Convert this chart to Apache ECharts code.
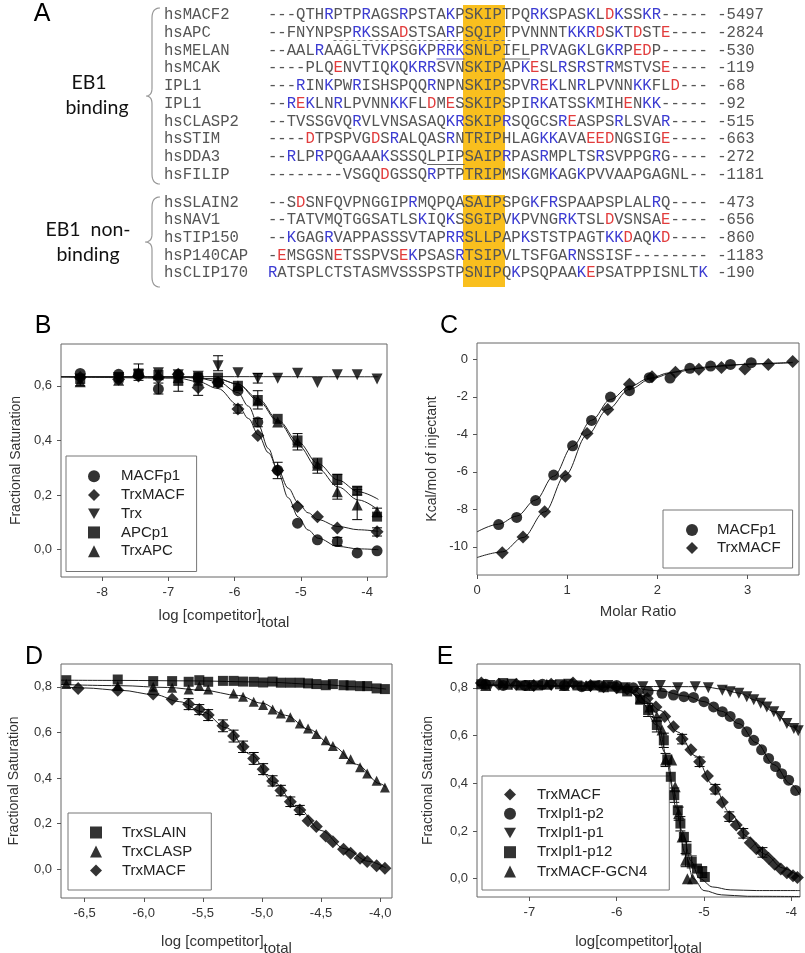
<!DOCTYPE html>
<html>
<head>
<meta charset="utf-8">
<script src="https://cdn.jsdelivr.net/npm/echarts@6/dist/echarts.min.js"></script>
<style>
  html, body { margin: 0; padding: 0; background: #fff; }
  #main { width: 805px; height: 953px; }
</style>
</head>
<body>
<div id="main"></div>
<script>
// ---------- panel A : alignment ----------
const alignNames = ['hsMACF2', 'hsAPC', 'hsMELAN', 'hsMCAK', 'IPL1', 'IPL1', 'hsCLASP2', 'hsSTIM', 'hsDDA3', 'hsFILIP',
  'hsSLAIN2', 'hsNAV1', 'hsTIP150', 'hsP140CAP', 'hsCLIP170'];
const alignSeqs = [
  '---QTHRPTPRAGSRPSTAKPSKIPTPQRKSPASKLDKSSKR-----',
  '--FNYNPSPRKSSADSTSARPSQIPTPVNNNTKKRDSKTDSTE----',
  '--AALRAAGLTVKPSGKPRRKSNLPIFLPRVAGKLGKRPEDP-----',
  '----PLQENVTIQKQKRRSVNSKIPAPKESLRSRSTRMSTVSE----',
  '---RINKPWRISHSPQQRNPNSKIPSPVREKLNRLPVNNKKFLD---',
  '--REKLNRLPVNNKKFLDMESSKIPSPIRKATSSKMIHENKK-----',
  '--TVSSGVQRVLVNSASAQKRSKIPRSQGCSREASPSRLSVAR----',
  '----DTPSPVGDSRALQASRNTRIPHLAGKKAVAEEDNGSIGE----',
  '--RLPRPQGAAAKSSSQLPIPSAIPRPASRMPLTSRSVPPGRG----',
  '--------VSGQDGSSQRPTPTRIPMSKGMKAGKPVVAAPGAGNL--',
  '--SDSNFQVPNGGIPRMQPQASAIPSPGKFRSPAAPSPLALRQ----',
  '--TATVMQTGGSATLSKIQKSSGIPVKPVNGRKTSLDVSNSAE----',
  '--KGAGRVAPPASSSVTAPRRSLLPAPKSTSTPAGTKKDAQKD----',
  '-EMSGSNETSSPVSEKPSASRTSIPVLTSFGARNSSISF--------',
  'RATSPLCTSTASMVSSSPSTPSNIPQKPSQPAAKEPSATPPISNLTK'
];
const alignEnds = ['-5497', '-2824', '-530', '-119', '-68', '-92', '-515', '-663', '-272', '-1181',
  '-473', '-656', '-860', '-1183', '-190'];
const motifCols = [21, 24];

// ---------- panel B ----------
const bX = [-8.33, -7.75, -7.45, -7.15, -6.85, -6.55, -6.25, -5.95, -5.65, -5.35, -5.05, -4.75, -4.45, -4.15, -3.85];
const bMACFp1 = [0.645, 0.642, 0.64, 0.588, 0.64, 0.63, 0.612, 0.582, 0.467, 0.291, 0.097, 0.036, 0.03, -0.012, -0.004];
const bTrxMACF = [0.63, 0.624, 0.636, 0.63, 0.642, 0.594, 0.612, 0.515, 0.418, 0.29, 0.158, 0.121, 0.079, null, 0.066];
const bTrx = [0.625, 0.63, 0.64, 0.648, 0.64, 0.635, 0.673, 0.648, 0.628, 0.628, 0.646, 0.612, 0.64, 0.64, 0.625];
const bAPCp1 = [0.625, 0.63, 0.645, 0.64, 0.618, 0.63, 0.63, 0.60, 0.548, 0.479, 0.40, 0.315, 0.26, 0.216, 0.121];
const bTrxAPC = [0.615, 0.62, 0.65, 0.64, 0.63, 0.62, 0.615, 0.60, 0.545, 0.467, 0.394, 0.309, 0.212, 0.164, 0.14];
const bFitMACFp1 = [[-8.62, 0.633], [-6.85, 0.632], [-6.55, 0.628], [-6.25, 0.615], [-5.95, 0.575], [-5.79, 0.525], [-5.64, 0.455],
  [-5.49, 0.37], [-5.34, 0.28], [-5.19, 0.19], [-5.04, 0.12], [-4.89, 0.072], [-4.74, 0.042], [-4.44, 0.012], [-4.13, 0.003], [-3.83, 0.0]];
const bFitTrxMACF = [[-8.62, 0.633], [-6.85, 0.628], [-6.55, 0.615], [-6.25, 0.59], [-5.95, 0.53], [-5.79, 0.48], [-5.64, 0.42],
  [-5.49, 0.355], [-5.34, 0.29], [-5.19, 0.225], [-5.04, 0.172], [-4.89, 0.135], [-4.74, 0.11], [-4.44, 0.085], [-4.13, 0.073], [-3.83, 0.067]];
const bFitTrx = [[-8.62, 0.634], [-3.83, 0.633]];
const bFitAPCp1 = [[-8.62, 0.633], [-6.85, 0.632], [-6.25, 0.625], [-5.95, 0.606], [-5.64, 0.552], [-5.34, 0.473], [-5.04, 0.394],
  [-4.74, 0.315], [-4.44, 0.255], [-4.13, 0.212], [-3.83, 0.184]];
const bFitTrxAPC = [[-8.62, 0.633], [-6.85, 0.632], [-6.25, 0.625], [-5.95, 0.606], [-5.64, 0.545], [-5.34, 0.467], [-5.04, 0.382],
  [-4.74, 0.297], [-4.44, 0.23], [-4.13, 0.182], [-3.83, 0.145]];
// error bars: [x, low, high]
const bErrors = [[-7.15, 0.57, 0.61], [-5.65, 0.45, 0.48], [-5.35, 0.26, 0.32], [-4.45, 0.015, 0.045],
  [-6.55, 0.565, 0.625], [-5.95, 0.50, 0.53], [-3.85, 0.05, 0.08],
  [-6.25, 0.655, 0.71], [-5.65, 0.61, 0.645],
  [-7.45, 0.62, 0.68], [-6.85, 0.58, 0.63], [-5.65, 0.515, 0.582], [-4.45, 0.24, 0.275], [-4.15, 0.20, 0.23],
  [-8.33, 0.60, 0.625], [-5.05, 0.365, 0.425], [-4.75, 0.28, 0.335], [-4.45, 0.185, 0.24], [-4.15, 0.11, 0.22], [-3.85, 0.12, 0.152]];

// ---------- panel C ----------
const cMACFx = [0.24, 0.44, 0.65, 0.85, 1.06, 1.27, 1.48, 1.69, 1.91, 2.14, 2.36, 2.59, 2.81, 3.04];
const cMACFy = [-8.81, -8.43, -7.53, -6.17, -4.61, -3.26, -2.01, -1.67, -0.98, -1.0, -0.48, -0.36, -0.27, -0.18];
const cTrxx = [0.28, 0.51, 0.75, 0.98, 1.22, 1.45, 1.69, 1.94, 2.2, 2.46, 2.71, 2.97, 3.23, 3.5];
const cTrxy = [-10.32, -9.47, -8.13, -6.23, -3.95, -2.67, -1.33, -0.93, -0.69, -0.53, -0.43, -0.52, -0.27, -0.12];
const cFitMACF = [[0, -9.2], [0.24, -8.79], [0.44, -8.36], [0.65, -7.5], [0.85, -6.23], [1.06, -4.63], [1.27, -3.25], [1.48, -2.14],
  [1.69, -1.46], [1.91, -1.01], [2.14, -0.71], [2.36, -0.52], [2.59, -0.39], [2.81, -0.3], [3.04, -0.25], [3.5, -0.18]];
const cFitTrx = [[0, -10.57], [0.28, -10.27], [0.51, -9.5], [0.75, -8.13], [0.98, -6.17], [1.22, -4.04], [1.45, -2.67], [1.69, -1.6],
  [1.94, -1.01], [2.2, -0.68], [2.46, -0.48], [2.71, -0.36], [2.97, -0.27], [3.23, -0.21], [3.5, -0.16]];

// ---------- panel D ----------
const dSLAINx = [-6.655, -6.22, -5.92, -5.76, -5.62, -5.53, -5.455, -5.33, -5.24, -5.16, -5.07, -4.99, -4.91, -4.84, -4.76, -4.68,
  -4.61, -4.54, -4.46, -4.40, -4.31, -4.25, -4.17, -4.11, -4.03, -3.96];
const dSLAINy = [0.829, 0.832, 0.825, 0.825, 0.822, 0.829, 0.822, 0.826, 0.826, 0.823, 0.822, 0.819, 0.823, 0.818, 0.818, 0.818,
  0.815, 0.812, 0.807, 0.812, 0.807, 0.806, 0.803, 0.803, 0.793, 0.79];
const dCLASPx = [-6.655, -6.22, -5.92, -5.76, -5.62, -5.53, -5.455, -5.24, -5.16, -5.07, -4.99, -4.91, -4.84, -4.76, -4.68,
  -4.61, -4.54, -4.46, -4.40, -4.31, -4.25, -4.17, -4.11, -4.03, -3.96];
const dCLASPy = [0.812, 0.803, 0.80, 0.796, 0.788, 0.803, 0.788, 0.771, 0.756, 0.734, 0.72, 0.70, 0.683, 0.666, 0.639,
  0.617, 0.593, 0.566, 0.54, 0.505, 0.482, 0.447, 0.42, 0.388, 0.359];
const dMACFx = [-6.555, -6.22, -5.92, -5.76, -5.62, -5.53, -5.455, -5.33, -5.24, -5.16, -5.07, -4.99, -4.91, -4.84, -4.76, -4.68,
  -4.61, -4.54, -4.46, -4.40, -4.31, -4.25, -4.17, -4.11, -4.03, -3.96];
const dMACFy = [0.793, 0.785, 0.768, 0.745, 0.724, 0.70, 0.676, 0.629, 0.584, 0.537, 0.486, 0.439, 0.387, 0.345, 0.296, 0.26,
  0.213, 0.187, 0.146, 0.121, 0.088, 0.07, 0.048, 0.034, 0.015, 0.004];
const dFitSLAIN = [[-6.7, 0.829], [-6.2, 0.828], [-5.6, 0.826], [-5.0, 0.821], [-4.5, 0.81], [-4.2, 0.80], [-3.95, 0.79]];
const dFitCLASP = [[-6.7, 0.81], [-6.2, 0.805], [-5.8, 0.797], [-5.5, 0.785], [-5.2, 0.762], [-5.0, 0.728], [-4.8, 0.675],
  [-4.6, 0.613], [-4.4, 0.54], [-4.2, 0.46], [-4.0, 0.375], [-3.95, 0.359]];
const dFitMACF = [[-6.7, 0.80], [-6.5, 0.795], [-6.2, 0.785], [-5.9, 0.765], [-5.7, 0.735], [-5.5, 0.69], [-5.3, 0.62], [-5.1, 0.505],
  [-4.9, 0.382], [-4.7, 0.272], [-4.5, 0.17], [-4.3, 0.09], [-4.1, 0.035], [-3.95, 0.005]];
const dErrors = [[-5.62, 0.70, 0.748], [-5.53, 0.678, 0.722], [-5.455, 0.652, 0.70], [-5.33, 0.603, 0.655], [-5.24, 0.558, 0.61],
  [-5.16, 0.512, 0.562], [-5.07, 0.46, 0.512], [-4.99, 0.415, 0.463], [-4.91, 0.365, 0.41], [-4.84, 0.322, 0.368],
  [-4.76, 0.275, 0.317], [-4.68, 0.24, 0.28]];

// ---------- panel E ----------
const eMACFx = [-7.55, -7.35, -7.15, -6.95, -6.75, -6.5, -6.3, -6.15, -6.0, -5.88, -5.76, -5.65, -5.55, -5.45, -5.35, -5.25, -5.15,
  -5.05, -4.96, -4.87, -4.79, -4.71, -4.63, -4.55, -4.47, -4.4, -4.33, -4.26, -4.19, -4.12, -4.05, -3.98, -3.93];
const eMACFy = [0.82, 0.815, 0.815, 0.81, 0.815, 0.82, 0.81, 0.805, 0.80, 0.795, 0.78, 0.755, 0.72, 0.68, 0.637, 0.585, 0.54,
  0.49, 0.43, 0.375, 0.32, 0.26, 0.225, 0.19, 0.15, 0.125, 0.11, 0.085, 0.06, 0.04, 0.025, 0.012, 0.005];
const eP2x = [-7.5, -7.3, -7.05, -6.85, -6.6, -6.4, -6.2, -6.0, -5.81, -5.64, -5.48, -5.35, -5.23, -5.12, -5.0, -4.89, -4.79, -4.7,
  -4.6, -4.51, -4.43, -4.34, -4.26, -4.18, -4.11, -4.03, -3.95];
const eP2y = [0.815, 0.81, 0.81, 0.815, 0.81, 0.805, 0.81, 0.81, 0.80, 0.785, 0.777, 0.77, 0.763, 0.76, 0.742, 0.72, 0.70, 0.68,
  0.65, 0.616, 0.58, 0.54, 0.504, 0.47, 0.44, 0.413, 0.37];
const eP1x = [-7.45, -7.2, -7.0, -6.75, -6.55, -6.3, -6.1, -5.9, -5.7, -5.5, -5.3, -5.1, -4.95, -4.79, -4.7, -4.6, -4.51, -4.43,
  -4.35, -4.28, -4.2, -4.13, -4.05, -3.97, -3.92];
const eP1y = [0.81, 0.815, 0.81, 0.81, 0.815, 0.805, 0.81, 0.80, 0.805, 0.81, 0.80, 0.805, 0.80, 0.79, 0.784, 0.777, 0.763, 0.75,
  0.735, 0.72, 0.70, 0.68, 0.65, 0.63, 0.62];
const eP12x = [-7.55, -7.3, -7.1, -6.9, -6.65, -6.45, -6.25, -6.05, -5.88, -5.73, -5.64, -5.54, -5.46, -5.42, -5.38, -5.34, -5.3,
  -5.27, -5.23, -5.2, -5.14, -5.08, -5.02, -4.99];
const eP12y = [0.815, 0.82, 0.81, 0.81, 0.815, 0.81, 0.81, 0.805, 0.785, 0.75, 0.707, 0.644, 0.58, 0.50, 0.427, 0.35, 0.287,
  0.231, 0.175, 0.126, 0.07, 0.042, 0.028, 0.007];
const eGCNx = [-7.5, -7.25, -7.0, -6.8, -6.6, -6.35, -6.15, -5.95, -5.73, -5.62, -5.54, -5.48, -5.44, -5.37, -5.33, -5.29, -5.25,
  -5.21, -5.19, -5.13];
const eGCNy = [0.81, 0.815, 0.81, 0.815, 0.81, 0.81, 0.805, 0.80, 0.756, 0.72, 0.68, 0.623, 0.497, 0.497, 0.385, 0.273, 0.175,
  0.077, 0.0, 0.0];
const eFitMACF = [[-7.6, 0.812], [-6.5, 0.81], [-6.0, 0.80], [-5.7, 0.765], [-5.5, 0.705], [-5.3, 0.615], [-5.1, 0.515], [-4.9, 0.395],
  [-4.7, 0.275], [-4.5, 0.175], [-4.3, 0.102], [-4.1, 0.045], [-3.9, 0.005]];
const eFitP2 = [[-7.6, 0.81], [-6.0, 0.807], [-5.5, 0.787], [-5.2, 0.765], [-5.0, 0.742], [-4.8, 0.702], [-4.6, 0.65], [-4.4, 0.57],
  [-4.2, 0.478], [-4.0, 0.395], [-3.9, 0.35]];
const eFitP1 = [[-7.6, 0.81], [-5.0, 0.805], [-4.8, 0.795], [-4.6, 0.778], [-4.4, 0.748], [-4.2, 0.70], [-4.0, 0.638], [-3.9, 0.612]];
const eFitP12 = [[-7.6, 0.812], [-6.0, 0.806], [-5.85, 0.785], [-5.7, 0.735], [-5.55, 0.645], [-5.45, 0.53], [-5.35, 0.37],
  [-5.25, 0.2], [-5.15, 0.075], [-5.05, 0.0], [-4.9, -0.035], [-4.7, -0.047], [-4.4, -0.05], [-3.9, -0.05]];
const eFitGCN = [[-7.6, 0.812], [-6.0, 0.806], [-5.8, 0.79], [-5.65, 0.74], [-5.52, 0.64], [-5.42, 0.5], [-5.32, 0.3], [-5.22, 0.11],
  [-5.12, 0.0], [-5.0, -0.05], [-4.8, -0.068], [-4.5, -0.074], [-3.9, -0.075]];
const eErrors = [[-5.64, 0.68, 0.735], [-5.54, 0.615, 0.675], [-5.46, 0.55, 0.61], [-5.34, 0.32, 0.38], [-5.27, 0.2, 0.26],
  [-5.2, 0.1, 0.155], [-5.14, 0.045, 0.095], [-5.02, 0.005, 0.05], [-5.44, 0.47, 0.525], [-5.29, 0.245, 0.30], [-5.21, 0.05, 0.105],
  [-5.25, 0.565, 0.605], [-5.05, 0.47, 0.51], [-4.87, 0.355, 0.395], [-4.71, 0.24, 0.28], [-4.55, 0.17, 0.21], [-4.33, 0.09, 0.13]];

// ---------- helpers ----------
const FONT = 'Liberation Sans';
const MONO = '15.6px "Liberation Mono"';
const CW = 9.36; // mono char width
const triDown = 'path://M0,0L10,0L5,8.7Z';

const pairs = (xs, ys) => xs.map((x, i) => [x, ys[i]]).filter(p => p[1] !== null);
const comma = v => v.toFixed(1).replace('.', ',');

function valAxis(gi, min, max, ticks, fmt, name, gap, vertical) {
  return {
    type: 'value', gridIndex: gi, min: min, max: max,
    axisLine: { show: false, onZero: false }, splitLine: { show: false },
    axisTick: { show: true, length: 4, customValues: ticks, lineStyle: { color: '#555' } },
    axisLabel: { customValues: ticks, formatter: fmt, color: '#333', fontSize: 13, fontFamily: FONT, margin: 9 },
    name: name, nameLocation: 'middle', nameGap: gap,
    nameRotate: vertical ? 90 : 0,
    nameTextStyle: {
      color: '#333', fontSize: vertical ? 14 : 15, fontFamily: FONT,
      rich: {
        a: { fontSize: 15, color: '#333', fontFamily: FONT, verticalAlign: 'top' },
        s: { fontSize: 15, color: '#333', fontFamily: FONT, verticalAlign: 'top', padding: [7, 0, 0, 0] }
      }
    }
  };
}

function dots(name, data, gi, symbol, size) {
  return { name: name, type: 'scatter', xAxisIndex: gi, yAxisIndex: gi, data: data, symbol: symbol,
    symbolSize: size || 11, itemStyle: { color: '#000' }, z: 4, silent: true };
}

function fit(data, gi) {
  return { type: 'line', xAxisIndex: gi, yAxisIndex: gi, data: data, symbol: 'none', smooth: 0.35, smoothMonotone: 'x',
    lineStyle: { color: '#222', width: 1 }, z: 3, silent: true };
}

function errBars(data, gi) {
  return {
    type: 'custom', xAxisIndex: gi, yAxisIndex: gi, data: data, encode: { x: 0, y: [1, 2] }, z: 2, silent: true,
    renderItem: function (params, api) {
      const lo = api.coord([api.value(0), api.value(1)]);
      const hi = api.coord([api.value(0), api.value(2)]);
      const w = 5;
      const st = { stroke: '#000', lineWidth: 1 };
      return { type: 'group', children: [
        { type: 'line', shape: { x1: lo[0], y1: lo[1], x2: hi[0], y2: hi[1] }, style: st },
        { type: 'line', shape: { x1: lo[0] - w, y1: lo[1], x2: lo[0] + w, y2: lo[1] }, style: st },
        { type: 'line', shape: { x1: hi[0] - w, y1: hi[1], x2: hi[0] + w, y2: hi[1] }, style: st }
      ] };
    }
  };
}

function legendBox(left, top, names, lh, pad, textPad) {
  return {
    orient: 'vertical', left: left, top: top, data: names, selectedMode: false,
    itemWidth: 12, itemHeight: 12, itemGap: 0, padding: pad,
    borderColor: '#777', borderWidth: 1, borderRadius: 0,
    textStyle: { fontSize: 15, color: '#222', fontFamily: FONT, lineHeight: lh, padding: [0, 0, 0, textPad] }
  };
}

// ---------- panel A graphics ----------
function richSeq(seq, end) {
  let out = '';
  for (let i = 0; i < seq.length; i++) {
    const c = seq[i];
    let st = 'n';
    if (i < motifCols[0] || i > motifCols[1]) {
      if (c === 'K' || c === 'R') st = 'b';
      else if (c === 'D' || c === 'E') st = 'r';
    }
    out += '{' + st + '|' + c + '}';
  }
  return out + '{n| ' + end + '}';
}

const rowY = alignNames.map((n, i) => i < 10 ? 15 + i * 17.75 : 202.7 + (i - 10) * 17.65);
const seqX = 268, nameX = 164;
const colX = c => seqX + c * CW;

// curly brace drawn as a polyline from sampled quadratic curves
function bracePoints(x, y1, y2, tipX) {
  const ym = (y1 + y2) / 2, xm = x - 5;
  const segs = [
    [[x + 3, y1], [xm, y1], [xm, y1 + 10]],
    [[xm, ym - 8], [xm, ym], [tipX, ym]],
    [[tipX, ym], [xm, ym], [xm, ym + 8]],
    [[xm, y2 - 10], [xm, y2], [x + 3, y2]]
  ];
  const pts = [];
  segs.forEach(s => {
    for (let k = 0; k <= 8; k++) {
      const t = k / 8, u = 1 - t;
      pts.push([u * u * s[0][0] + 2 * u * t * s[1][0] + t * t * s[2][0],
        u * u * s[0][1] + 2 * u * t * s[1][1] + t * t * s[2][1]]);
    }
  });
  return pts;
}

const graphics = [
  { type: 'rect', shape: { x: 463, y: 5, width: 42, height: 175 }, style: { fill: '#f9bf1e' }, z: 0 },
  { type: 'rect', shape: { x: 463, y: 195, width: 42, height: 92 }, style: { fill: '#f9bf1e' }, z: 0 },
  { type: 'polyline', shape: { points: bracePoints(157, 8, 184, 146) }, style: { stroke: '#999', fill: null, lineWidth: 1.2 }, z: 1 },
  { type: 'polyline', shape: { points: bracePoints(157, 197, 287, 145) }, style: { stroke: '#999', fill: null, lineWidth: 1.2 }, z: 1 },
  { type: 'line', shape: { x1: colX(7), y1: 40.5, x2: colX(26), y2: 40.5 }, style: { stroke: '#777', lineWidth: 1, lineDash: [3, 3] }, z: 1 },
  { type: 'line', shape: { x1: colX(18), y1: 59, x2: colX(21), y2: 59 }, style: { stroke: '#5555cc', lineWidth: 1 }, z: 1 },
  { type: 'line', shape: { x1: colX(25), y1: 59, x2: colX(28), y2: 59 }, style: { stroke: '#666', lineWidth: 1 }, z: 1 },
  { type: 'line', shape: { x1: colX(17), y1: 164.5, x2: colX(21), y2: 164.5 }, style: { stroke: '#666', lineWidth: 1 }, z: 1 }
];
const labelFont = '19.5px Lato';
[['EB1', 89, 83], ['binding', 97, 108], ['EB1  non-', 88, 230], ['binding', 88, 255]].forEach(t => {
  graphics.push({ type: 'text', x: t[1], y: t[2], z: 2,
    style: { text: t[0], font: labelFont, fill: '#111', align: 'center', verticalAlign: 'middle' } });
});
[['A', 42, 14], ['B', 43, 326], ['C', 449, 326], ['D', 34, 657], ['E', 445, 657]].forEach(t => {
  graphics.push({ type: 'text', x: t[1], y: t[2], z: 2,
    style: { text: t[0], font: '25px "Liberation Sans"', fill: '#000', align: 'center', verticalAlign: 'middle' } });
});
alignNames.forEach((n, i) => {
  graphics.push({ type: 'text', x: nameX, y: rowY[i], z: 2,
    style: { text: n, font: MONO, fill: '#555', verticalAlign: 'middle' } });
  graphics.push({ type: 'text', x: seqX, y: rowY[i], z: 2,
    style: { text: richSeq(alignSeqs[i], alignEnds[i]), font: MONO, fill: '#555', verticalAlign: 'middle',
      rich: {
        n: { fill: '#555', font: MONO },
        b: { fill: '#3c3cd2', font: MONO },
        r: { fill: '#e23c3c', font: MONO }
      } } });
});

// ---------- option ----------
const xName = '{a|log [competitor]}{s|total}';
const option = {
  animation: false,
  backgroundColor: '#fff',
  textStyle: { fontFamily: FONT },
  grid: [
    { left: 61, top: 344, width: 326, height: 233 },
    { left: 477, top: 343, width: 322, height: 232 },
    { left: 61, top: 664, width: 331, height: 234 },
    { left: 477, top: 664, width: 323, height: 233 }
  ].map(g => Object.assign(g, { show: true, borderColor: '#666', borderWidth: 1, outerBoundsMode: 'none' })),
  xAxis: [
    valAxis(0, -8.62, -3.70, [-8, -7, -6, -5, -4], v => String(v), xName, 31, false),
    valAxis(1, 0, 3.57, [0, 1, 2, 3], v => String(v), 'Molar Ratio', 29, false),
    valAxis(2, -6.70, -3.90, [-6.5, -6, -5.5, -5, -4.5, -4], comma, xName, 36, false),
    valAxis(3, -7.60, -3.90, [-7, -6, -5, -4], v => String(v), '{a|log[competitor]}{s|total}', 37, false)
  ],
  yAxis: [
    valAxis(0, -0.1, 0.753, [0, 0.2, 0.4, 0.6], comma, 'Fractional Saturation', 38, true),
    valAxis(1, -11.5, 0.87, [-10, -8, -6, -4, -2, 0], v => String(v), 'Kcal/mol of injectant', 38, true),
    valAxis(2, -0.126, 0.90, [0, 0.2, 0.4, 0.6, 0.8], comma, 'Fractional Saturation', 40, true),
    valAxis(3, -0.077, 0.90, [0, 0.2, 0.4, 0.6, 0.8], comma, 'Fractional Saturation', 42, true)
  ],
  legend: [
    legendBox(66, 456, ['MACFp1', 'TrxMACF', 'Trx', 'APCp1', 'TrxAPC'], 18.7, [11, 12, 11, 22], 16),
    legendBox(663, 510, ['MACFp1', 'TrxMACF'], 18, [11, 12, 11, 23], 14),
    legendBox(68, 813, ['TrxSLAIN', 'TrxCLASP', 'TrxMACF'], 19, [10, 19, 10, 22], 15),
    legendBox(482, 776, ['TrxMACF', 'TrxIpl1-p2', 'TrxIpl1-p1', 'TrxIpl1-p12', 'TrxMACF-GCN4'], 19.2, [9, 22, 9, 22], 16)
  ],
  graphic: { elements: graphics },
  series: [
    // B
    errBars(bErrors, 0),
    fit(bFitTrx, 0), fit(bFitMACFp1, 0), fit(bFitTrxMACF, 0), fit(bFitAPCp1, 0), fit(bFitTrxAPC, 0),
    dots('MACFp1', pairs(bX, bMACFp1), 0, 'circle', 11),
    dots('TrxMACF', pairs(bX, bTrxMACF), 0, 'diamond', 13),
    dots('Trx', pairs(bX, bTrx), 0, triDown, 11),
    dots('APCp1', pairs(bX, bAPCp1), 0, 'rect', 10),
    dots('TrxAPC', pairs(bX, bTrxAPC), 0, 'triangle', 11),
    // C
    fit(cFitMACF, 1), fit(cFitTrx, 1),
    dots('MACFp1', pairs(cMACFx, cMACFy), 1, 'circle', 11),
    dots('TrxMACF', pairs(cTrxx, cTrxy), 1, 'diamond', 13),
    // D
    errBars(dErrors, 2),
    fit(dFitSLAIN, 2), fit(dFitCLASP, 2), fit(dFitMACF, 2),
    dots('TrxSLAIN', pairs(dSLAINx, dSLAINy), 2, 'rect', 10),
    dots('TrxCLASP', pairs(dCLASPx, dCLASPy), 2, 'triangle', 10),
    dots('TrxMACF', pairs(dMACFx, dMACFy), 2, 'diamond', 13),
    // E
    errBars(eErrors, 3),
    fit(eFitMACF, 3), fit(eFitP2, 3), fit(eFitP1, 3), fit(eFitP12, 3), fit(eFitGCN, 3),
    dots('TrxMACF', pairs(eMACFx, eMACFy), 3, 'diamond', 13),
    dots('TrxIpl1-p2', pairs(eP2x, eP2y), 3, 'circle', 11),
    dots('TrxIpl1-p1', pairs(eP1x, eP1y), 3, triDown, 11),
    dots('TrxIpl1-p12', pairs(eP12x, eP12y), 3, 'rect', 10),
    dots('TrxMACF-GCN4', pairs(eGCNx, eGCNy), 3, 'triangle', 11)
  ]
};

const chart = echarts.init(document.getElementById('main'));
chart.setOption(option);
</script>
</body>
</html>
